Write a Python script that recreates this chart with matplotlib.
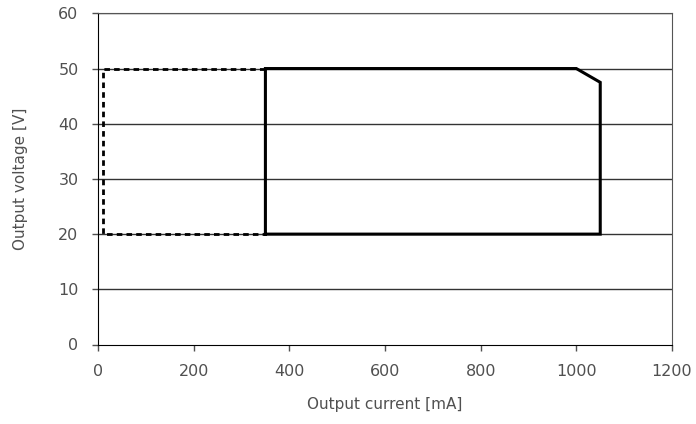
import matplotlib
matplotlib.use('Agg')
import matplotlib.pyplot as plt

# Operating window (solid) and extended window (dashed)
solid_current = [350, 350, 1000, 1050, 1050, 350]
solid_voltage = [20, 50, 50, 47.5, 20, 20]
dashed_current = [350, 10, 10, 350]
dashed_voltage = [50, 50, 20, 20]

x_ticks = [0, 200, 400, 600, 800, 1000, 1200]
y_ticks = [0, 10, 20, 30, 40, 50, 60]

plt.rcParams['font.family'] = ['DejaVu Sans']
fig = plt.figure(figsize=(6.96, 4.24), dpi=100)
ax = fig.add_axes([0.1408, 0.1875, 0.8247, 0.781])

for y in y_ticks[1:]:
    ax.axhline(y, color='#333333', lw=1.0, zorder=1)

ax.plot(dashed_current, dashed_voltage, color='black', lw=2.0,
        linestyle=(0, (2, 1.5)), zorder=2)
ax.plot(solid_current, solid_voltage, color='black', lw=2.2, zorder=3,
        solid_joinstyle='miter')

ax.set_xlim(0, 1200)
ax.set_ylim(0, 60)
ax.set_xticks(x_ticks)
ax.set_yticks(y_ticks)
ax.tick_params(axis='both', labelsize=11.5, colors='#505050', length=4,
               width=1.0, pad=10)
for side in ['left', 'bottom']:
    ax.spines[side].set_color('black')
for side in ['top', 'right']:
    ax.spines[side].set_color('#555555')

ax.set_xlabel('Output current [mA]', fontsize=11, color='#505050',
              labelpad=13)
ax.set_ylabel('Output voltage [V]', fontsize=11, color='#505050',
              labelpad=22)

fig.savefig('out.png', dpi=100)
